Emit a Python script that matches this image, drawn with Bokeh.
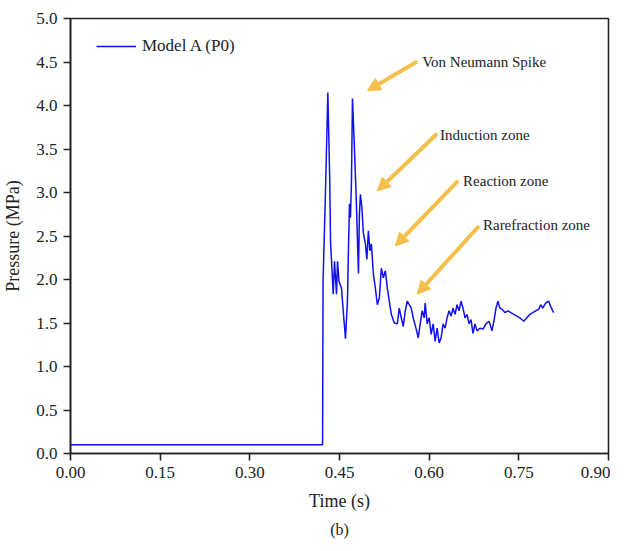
from bokeh.plotting import figure
from bokeh.models import (Range1d, FixedTicker, Arrow, NormalHead, Label, Title)
from bokeh.embed import file_html
from bokeh.resources import INLINE

# ---- data ----
time_s = [0.000, 0.420, 0.4217, 0.4225, 0.4265, 0.4305, 0.4335, 0.435, 0.4395, 0.4417,
          0.445, 0.4467, 0.4492, 0.4533, 0.4567, 0.460, 0.4633, 0.465, 0.4667, 0.4683,
          0.470, 0.4717, 0.475, 0.4783, 0.4817, 0.4833, 0.485, 0.4875, 0.490, 0.4933,
          0.4958, 0.4983, 0.5008, 0.5033, 0.5067, 0.510, 0.5133, 0.5167, 0.520, 0.5233,
          0.5267, 0.530, 0.5333, 0.5367, 0.5417, 0.5467, 0.550, 0.5533, 0.5567, 0.560,
          0.5633, 0.5667, 0.570, 0.5733, 0.5783, 0.5817, 0.585, 0.5883, 0.5917, 0.5933,
          0.5967, 0.600, 0.6033, 0.6067, 0.610, 0.6133, 0.6167, 0.620, 0.6233, 0.6267,
          0.630, 0.6333, 0.6367, 0.640, 0.6433, 0.6467, 0.650, 0.6533, 0.6567, 0.660,
          0.6633, 0.6667, 0.670, 0.6733, 0.6767, 0.680, 0.685, 0.690, 0.695, 0.700,
          0.7017, 0.705, 0.7083, 0.7117, 0.715, 0.7183, 0.7217, 0.7267, 0.7317, 0.7367,
          0.7417, 0.7467, 0.7517, 0.7583, 0.7633, 0.7683, 0.7733, 0.7783, 0.7833, 0.7867,
          0.790, 0.795, 0.800, 0.8033, 0.8067, 0.8083]
pressure_mpa = [0.10, 0.10, 0.10, 1.98, 3.00, 4.15, 3.20, 2.44, 1.83, 2.21,
                1.83, 2.21, 1.98, 1.90, 1.60, 1.32, 1.75, 2.36, 2.87, 2.71,
                3.13, 4.08, 3.51, 2.87, 2.07, 2.75, 2.98, 2.82, 2.53, 2.41,
                2.23, 2.56, 2.33, 2.41, 2.06, 1.90, 1.71, 1.79, 2.13, 2.02,
                2.10, 1.90, 1.75, 1.60, 1.50, 1.49, 1.67, 1.56, 1.46, 1.64,
                1.75, 1.71, 1.67, 1.56, 1.43, 1.33, 1.49, 1.64, 1.56, 1.73,
                1.49, 1.56, 1.37, 1.49, 1.29, 1.44, 1.27, 1.33, 1.49, 1.44,
                1.56, 1.64, 1.58, 1.67, 1.60, 1.71, 1.64, 1.75, 1.67, 1.56,
                1.60, 1.49, 1.54, 1.38, 1.49, 1.41, 1.44, 1.43, 1.49, 1.52,
                1.49, 1.41, 1.52, 1.67, 1.75, 1.67, 1.66, 1.62, 1.64, 1.62,
                1.60, 1.58, 1.56, 1.52, 1.56, 1.60, 1.62, 1.64, 1.66, 1.71,
                1.67, 1.73, 1.75, 1.69, 1.64, 1.62]
series_name = "Model A (P0)"

x_ticks = [0.0, 0.15, 0.30, 0.45, 0.60, 0.75, 0.90]
x_tick_labels = ["0.00", "0.15", "0.30", "0.45", "0.60", "0.75", "0.90"]
y_ticks = [0.0, 0.5, 1.0, 1.5, 2.0, 2.5, 3.0, 3.5, 4.0, 4.5, 5.0]
y_tick_labels = ["0.0", "0.5", "1.0", "1.5", "2.0", "2.5", "3.0", "3.5", "4.0", "4.5", "5.0"]

# annotations: (text, text_x, text_y, arrow tail x, tail y, head x, head y)
annotation_texts = ["Von Neumann Spike", "Induction zone", "Reaction zone", "Rarefraction zone"]
annotation_text_x = [0.5883, 0.6183, 0.6567, 0.690]
annotation_text_y = [4.505, 3.664, 3.134, 2.627]
arrow_tail_x = [0.580, 0.6133, 0.6483, 0.6833]
arrow_tail_y = [4.505, 3.675, 3.134, 2.615]
arrow_head_x = [0.4967, 0.5133, 0.5433, 0.580]
arrow_head_y = [4.170, 3.018, 2.385, 1.832]

FONT = "Liberation Serif"
BLUE = "#1010F0"
GOLD = "#F4BF4A"

p = figure(width=610, height=542, output_backend="svg", toolbar_location=None,
           x_range=Range1d(0, 0.9), y_range=Range1d(0, 5),
           min_border_left=61, min_border_right=2, min_border_top=18, min_border_bottom=40)
p.background_fill_color = "white"
p.border_fill_color = "white"
p.grid.visible = False
p.outline_line_color = "#222222"
p.outline_line_width = 1.6

p.line(time_s, pressure_mpa, line_color=BLUE, line_width=1.5, legend_label=series_name)

for ax, ticks, labels in ((p.xaxis[0], x_ticks, x_tick_labels), (p.yaxis[0], y_ticks, y_tick_labels)):
    ax.ticker = FixedTicker(ticks=ticks)
    ax.major_label_overrides = {t: l for t, l in zip(ticks, labels)}
    ax.minor_tick_line_color = None
    ax.major_tick_in = 0
    ax.major_tick_out = 7
    ax.major_tick_line_width = 1.6
    ax.major_tick_line_color = "#222222"
    ax.axis_line_width = 1.6
    ax.axis_line_color = "#222222"
    ax.major_label_text_font = FONT
    ax.major_label_text_font_size = "17px"
    ax.major_label_text_color = "#222222"
    ax.axis_label_text_font = FONT
    ax.axis_label_text_font_size = "18px"
    ax.axis_label_text_font_style = "normal"
    ax.axis_label_text_color = "#222222"
    ax.major_label_standoff = 6

p.xaxis.axis_label = "Time (s)"
p.yaxis.axis_label = "Pressure (MPa)"
p.xaxis.axis_label_standoff = 10
p.yaxis.axis_label_standoff = 10

# legend
lg = p.legend[0]
lg.margin = 0
lg.padding = 0
lg.location = (26, 397)
lg.border_line_color = None
lg.background_fill_alpha = 0
lg.glyph_width = 40
lg.glyph_height = 18
lg.label_height = 18
lg.label_standoff = 6
lg.label_text_font = FONT
lg.label_text_font_size = "17px"
lg.label_text_color = "#222222"

# arrows + labels
for txt, tx, ty, x0, y0, x1, y1 in zip(annotation_texts, annotation_text_x, annotation_text_y,
                                       arrow_tail_x, arrow_tail_y, arrow_head_x, arrow_head_y):
    p.add_layout(Arrow(x_start=x0, y_start=y0, x_end=x1, y_end=y1,
                       line_color=GOLD, line_width=4,
                       end=NormalHead(size=13, fill_color=GOLD, line_color=GOLD, line_width=1)))
    p.add_layout(Label(x=tx, y=ty, text=txt, text_font=FONT, text_font_size="15px",
                       text_color="#222222", text_baseline="middle", text_align="left"))

p.add_layout(Title(text="(b)", align="center", text_font=FONT, text_font_size="16px",
                   text_font_style="normal", text_color="#222222", standoff=10), "below")

open("out.html", "w").write(file_html(p, INLINE))
